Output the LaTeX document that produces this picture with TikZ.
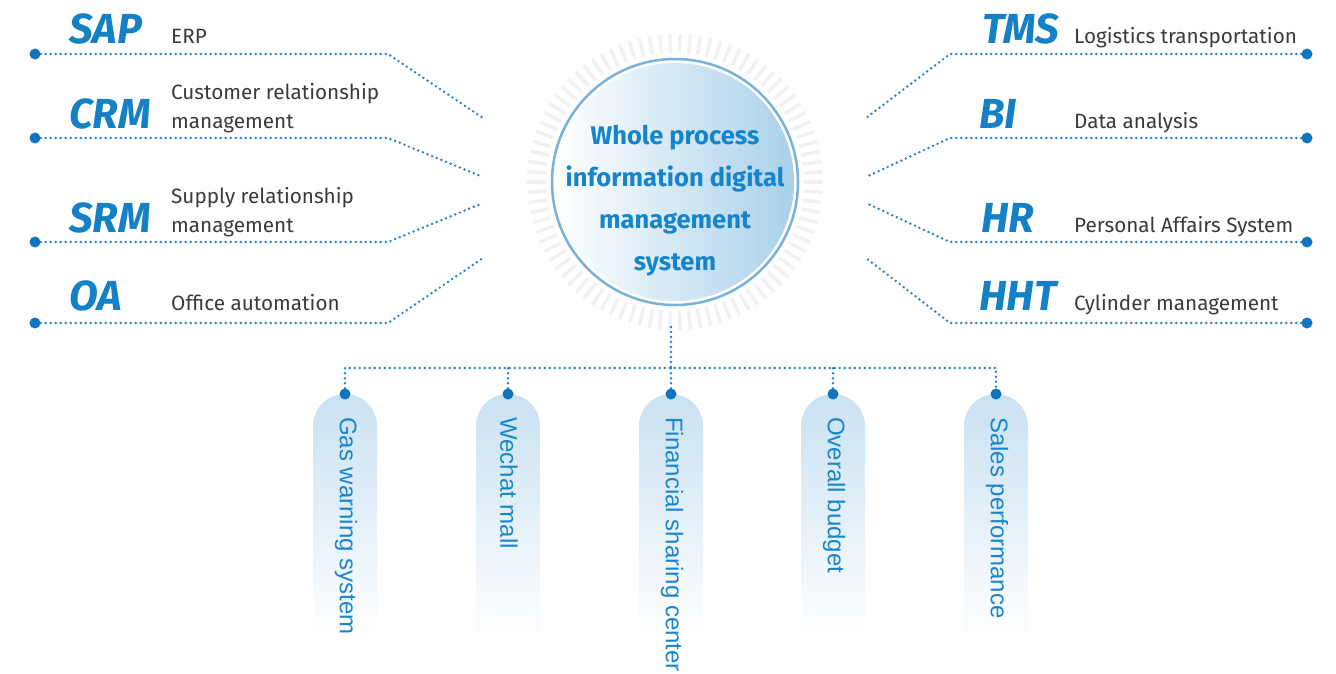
\documentclass[tikz,border=0pt]{standalone}
\usepackage{fontspec}
\setmainfont{Fira Sans}
\newfontfamily\pillfont{Liberation Sans}
\definecolor{abbrblue}{HTML}{1480C6}
\definecolor{textgray}{HTML}{3A3A3A}
\definecolor{dotblue}{HTML}{0E74BB}
\definecolor{lineblue}{HTML}{2282CA}
\definecolor{pillblue}{HTML}{C9E1F2}
\definecolor{pillmid}{HTML}{E1EEF8}
\definecolor{pilltextblue}{HTML}{1A86C8}
\definecolor{hubright}{HTML}{A9D1EA}
\definecolor{hubline}{HTML}{78B2D9}
\definecolor{tickgray}{HTML}{F1F1F1}
\definecolor{hubtextblue}{HTML}{1584CB}

\begin{document}
\begin{tikzpicture}[x=1pt,y=-1pt,
    dotline/.style={draw=lineblue,line width=2.7pt,line cap=round,dash pattern=on 0pt off 5pt},
    enddot/.style={circle,fill=dotblue,inner sep=0pt,minimum size=11pt},
    abbr/.style={anchor=base west,text=abbrblue,inner sep=0pt,font=\fontsize{42}{42}\selectfont\bfseries\itshape},
    desc/.style={anchor=base west,text=textgray,inner sep=0pt,align=left,font=\fontsize{20.7}{29}\selectfont},
    pilltext/.style={rotate=-90,anchor=west,inner sep=0pt,text=pilltextblue,font=\pillfont\fontsize{24}{24}\selectfont}]
      \path[use as bounding box,clip] (0,0) rectangle (1336,673);
      % hub circle
      \coordinate (hub) at (675,182);
      \foreach \a in {0,4,...,356}
            \draw[tickgray,line width=3.4pt] (hub) ++(\a:129pt) -- ++(\a:19pt);
      \shade[left color=white,right color=hubright] (hub) circle[radius=119pt];
      \draw[hubline,line width=2.5pt] (hub) circle[radius=123pt];
      \node[text=hubtextblue,align=center,font=\fontsize{25.5}{42}\selectfont\bfseries] (hubtext) at (675,201)
            {Whole process\\information digital\\management\\system};
      % left side
      \node[enddot] (dotSAP) at (35,54) {};
      \node[enddot] (dotCRM) at (35,138) {};
      \node[enddot] (dotSRM) at (35,242) {};
      \node[enddot] (dotOA) at (35,323) {};
      \coordinate (endSAP) at (483,118);
      \coordinate (endCRM) at (483,177);
      \coordinate (endSRM) at (483,203);
      \coordinate (endOA) at (483,258);
      \draw[dotline] (dotSAP) -- (388,54) -- (endSAP);
      \draw[dotline] (dotCRM) -- (388,138) -- (endCRM);
      \draw[dotline] (dotSRM) -- (388,242) -- (endSRM);
      \draw[dotline] (dotOA) -- (388,323) -- (endOA);
      \node[abbr] (SAP) at (69,43) {SAP};
      \node[abbr] (CRM) at (69,128) {CRM};
      \node[abbr] (SRM) at (69,232) {SRM};
      \node[abbr] (OA) at (69,310) {OA};
      \node[desc] (descSAP) at (171,43) {ERP};
      \node[desc] (descCRM) at (171,128) {Customer relationship\\management};
      \node[desc] (descSRM) at (171,232) {Supply relationship\\management};
      \node[desc] (descOA) at (171,310) {Office automation};
      % right side
      \node[enddot] (dotTMS) at (1307,54) {};
      \node[enddot] (dotBI) at (1307,138) {};
      \node[enddot] (dotHR) at (1307,242) {};
      \node[enddot] (dotHHT) at (1307,323) {};
      \coordinate (endTMS) at (866,118);
      \coordinate (endBI) at (866,177);
      \coordinate (endHR) at (866,203);
      \coordinate (endHHT) at (866,258);
      \draw[dotline] (dotTMS) -- (950,54) -- (endTMS);
      \draw[dotline] (dotBI) -- (950,138) -- (endBI);
      \draw[dotline] (dotHR) -- (950,242) -- (endHR);
      \draw[dotline] (dotHHT) -- (950,323) -- (endHHT);
      \node[abbr] (TMS) at (982,43) {TMS};
      \node[abbr] (BI) at (979,128) {BI};
      \node[abbr] (HR) at (981,232) {HR};
      \node[abbr] (HHT) at (979,310) {HHT};
      \node[desc] (descTMS) at (1074,43) {Logistics transportation};
      \node[desc] (descBI) at (1074,128) {Data analysis};
      \node[desc] (descHR) at (1074,232) {Personal Affairs System};
      \node[desc] (descHHT) at (1074,310) {Cylinder management};
      % bottom branches
      \coordinate (hubfoot) at (671,327);
      \coordinate (fork) at (671,368);
      \foreach \x in {345,508,671,833,996}
            \shade[top color=pillblue,middle color=pillmid,bottom color=white] (\x-32,640) -- (\x-32,426) arc[start angle=180,end angle=0,radius=32pt] -- (\x+32,640) -- cycle;
      \node[enddot] (dotGas) at (345,394) {};
      \node[enddot] (dotMall) at (508,394) {};
      \node[enddot] (dotFin) at (671,394) {};
      \node[enddot] (dotBudget) at (833,394) {};
      \node[enddot] (dotSales) at (996,394) {};
      \draw[dotline] (hubfoot) -- (fork);
      \draw[dotline] (dotGas) -- (345,368) -- (996,368) -- (dotSales);
      \draw[dotline] (dotMall) -- (508,368);
      \draw[dotline] (dotFin) -- (fork);
      \draw[dotline] (dotBudget) -- (833,368);
      \node[pilltext] (Gas) at (346,417) {Gas warning system};
      \node[pilltext] (Mall) at (509,417) {Wechat mall};
      \node[pilltext] (Fin) at (672,417) {Financial sharing center};
      \node[pilltext] (Budget) at (834,417) {Overall budget};
      \node[pilltext] (Sales) at (997,417) {Sales performance};
\end{tikzpicture}
\end{document}
